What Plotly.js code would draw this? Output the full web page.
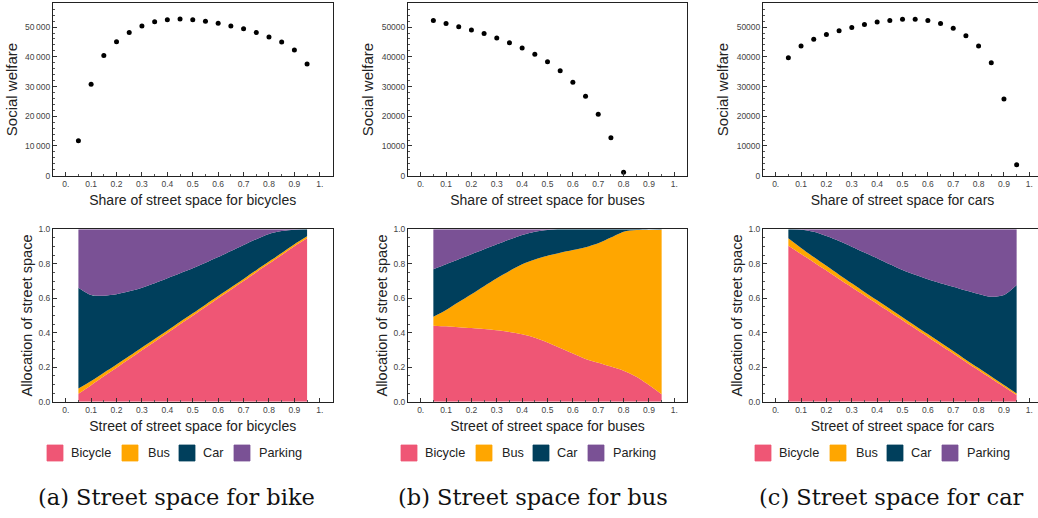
<!DOCTYPE html>
<html><head><meta charset="utf-8">
<script src="https://cdn.plot.ly/plotly-3.0.1.min.js"></script>
<style>html,body{margin:0;padding:0;overflow:hidden;background:#fff}#chart{width:1046px;height:518px}</style>
</head><body><div id="chart"></div>
<script>
// ---------- data ----------
const share = [0.05,0.10,0.15,0.20,0.25,0.30,0.35,0.40,0.45,0.50,0.55,0.60,0.65,0.70,0.75,0.80,0.85,0.90,0.95];
const shareBuses = [0.05,0.10,0.15,0.20,0.25,0.30,0.35,0.40,0.45,0.50,0.55,0.60,0.65,0.70,0.75,0.80];

const welfareBicycles = [11800,30800,40400,45100,48200,50400,51800,52500,52700,52500,52000,51300,50400,49400,48200,46700,45000,42300,37600];
const welfareBuses = [52200,51200,50100,49000,47800,46300,44700,43000,40900,38300,35300,31400,26700,20700,12800,1200];
const welfareCars = [39700,43600,45900,47500,48800,49900,50900,51700,52200,52600,52600,52200,51200,49600,47100,43600,38000,25800,3700];

// allocation when varying bicycle space
const bikeBicycle = [0.046,0.096,0.147,0.197,0.247,0.298,0.348,0.398,0.449,0.499,0.549,0.600,0.650,0.700,0.751,0.801,0.851,0.902,0.948];
const bikeBus     = [0.030,0.024,0.021,0.019,0.018,0.017,0.016,0.015,0.015,0.014,0.014,0.013,0.013,0.012,0.012,0.012,0.011,0.011,0.011];
const bikeCar     = [0.585,0.499,0.447,0.407,0.375,0.346,0.323,0.303,0.281,0.261,0.243,0.226,0.211,0.197,0.180,0.160,0.128,0.085,0.041];
const bikeParking = [0.339,0.381,0.385,0.377,0.360,0.339,0.313,0.284,0.255,0.226,0.194,0.161,0.126,0.091,0.057,0.027,0.010,0.002,0.000];

// allocation when varying bus space
const busBicycle = [0.441,0.437,0.432,0.427,0.421,0.414,0.404,0.391,0.371,0.344,0.312,0.280,0.248,0.226,0.204,0.180,0.145,0.097,0.043];
const busBus     = [0.052,0.095,0.146,0.196,0.249,0.302,0.354,0.406,0.454,0.503,0.552,0.600,0.648,0.693,0.748,0.806,0.851,0.899,0.955];
const busCar     = [0.275,0.265,0.248,0.232,0.214,0.197,0.183,0.170,0.161,0.149,0.136,0.120,0.104,0.081,0.048,0.014,0.004,0.002,0.002];
const busParking = [0.232,0.203,0.174,0.145,0.116,0.087,0.059,0.033,0.014,0.004,0.000,0.000,0.000,0.000,0.000,0.000,0.000,0.000,0.000];

// allocation when varying car space
const carBicycle = [0.905,0.857,0.809,0.761,0.712,0.664,0.616,0.568,0.520,0.472,0.424,0.376,0.328,0.280,0.231,0.183,0.135,0.087,0.039];
const carBus     = [0.043,0.035,0.030,0.027,0.025,0.023,0.021,0.020,0.019,0.018,0.017,0.016,0.015,0.014,0.013,0.012,0.011,0.010,0.009];
const carCar     = [0.052,0.106,0.147,0.173,0.195,0.212,0.228,0.244,0.258,0.274,0.295,0.318,0.344,0.373,0.401,0.430,0.463,0.522,0.629];
const carParking = [0.000,0.002,0.014,0.039,0.068,0.101,0.135,0.168,0.203,0.236,0.264,0.290,0.313,0.333,0.355,0.375,0.391,0.381,0.323];

const modes = ['Bicycle','Bus','Car','Parking'];
const modeColors = ['#EF5675','#FFA600','#003F5C','#7A5195'];
const xTickVals = [0,0.1,0.2,0.3,0.4,0.5,0.6,0.7,0.8,0.9,1];
const xTickText = ['0.','0.1','0.2','0.3','0.4','0.5','0.6','0.7','0.8','0.9','1.'];
const wTickVals = [0,10000,20000,30000,40000,50000];
const wTickTextSpaced = ['0','10\u2009000','20\u2009000','30\u2009000','40\u2009000','50\u2009000'];
const wTickTextPlain = ['0','10000','20000','30000','40000','50000'];
const topTitles = ['Share of street space for bicycles','Share of street space for buses','Share of street space for cars'];
const bottomTitles = ['Street of street space for bicycles','Street of street space for buses','Street of street space for cars'];
const captions = ['(a) Street space for bike','(b) Street space for bus','(c) Street space for car'];

// ---------- layout geometry ----------
const W = 1046, H = 518;
const px = v => v / W;
const py = v => 1 - v / H;
const cols = [[53, 332.5], [408, 687], [763, 1042]];
const topY = [py(175.7), py(3.3)];
const botY = [py(401.7), py(229.3)];

const traces = [];
const welfare = [[share, welfareBicycles], [shareBuses, welfareBuses], [share, welfareCars]];
welfare.forEach((d, i) => {
  traces.push({type:'scatter', mode:'markers', x:d[0], y:d[1], xaxis: i===0?'x':'x'+(i+1), yaxis: i===0?'y':'y'+(i+1),
    marker:{color:'#000', size:5}, showlegend:false, hoverinfo:'x+y'});
});
const alloc = [
  [bikeBicycle, bikeBus, bikeCar, bikeParking],
  [busBicycle, busBus, busCar, busParking],
  [carBicycle, carBus, carCar, carParking]
];
alloc.forEach((set, i) => {
  set.forEach((vals, k) => {
    traces.push({type:'scatter', mode:'lines', x:share, y:vals, stackgroup:'s'+i,
      xaxis:'x'+(i+4), yaxis:'y'+(i+4), name:modes[k],
      line:{width:0, shape:'spline', smoothing:0.8, color:modeColors[k]},
      fillcolor:modeColors[k], showlegend:false});
  });
});

const tickFont = {family:'Liberation Sans, Arial, sans-serif', size:8.5, color:'#444'};
const titleFont = {family:'Liberation Sans, Arial, sans-serif', size:14, color:'#222'};
function xAxis(dom, anchor, title) {
  return {domain:dom, anchor:anchor, range:[-0.05,1.05], tickmode:'array', tickvals:xTickVals, ticktext:xTickText,
    ticks:'inside', ticklen:4, tickwidth:1, tickcolor:'#333',
    minor:{dtick:0.05, tick0:0, ticks:'inside', ticklen:2, tickcolor:'#555', showgrid:false},
    showline:true, mirror:true, linecolor:'#222', linewidth:1, showgrid:false, zeroline:false,
    tickfont:tickFont, title:{text:title, font:titleFont, standoff:7}, fixedrange:true};
}
function yAxisTop(dom, anchor, ticktext) {
  return {domain:dom, anchor:anchor, range:[0,58000], tickmode:'array', tickvals:wTickVals, ticktext:ticktext,
    ticks:'inside', ticklen:4, tickwidth:1, tickcolor:'#333',
    minor:{dtick:2000, tick0:0, ticks:'inside', ticklen:2, tickcolor:'#555', showgrid:false},
    showline:true, mirror:true, linecolor:'#222', linewidth:1, showgrid:false, zeroline:false,
    tickfont:tickFont, title:{text:'Social welfare', font:{...titleFont, size:15}, standoff:3.5}, fixedrange:true};
}
function yAxisBot(dom, anchor) {
  return {domain:dom, anchor:anchor, range:[0,1], tickmode:'linear', tick0:0, dtick:0.2, tickformat:'.1f',
    ticks:'inside', ticklen:4, tickwidth:1, tickcolor:'#333',
    minor:{dtick:0.05, tick0:0, ticks:'inside', ticklen:2, tickcolor:'#555', showgrid:false},
    showline:true, mirror:true, linecolor:'#222', linewidth:1, showgrid:false, zeroline:false,
    tickfont:tickFont, title:{text:'Allocation of street space', font:{...titleFont, size:14.5}, standoff:2}, fixedrange:true};
}

const layout = {
  width:W, height:H, margin:{l:0,r:0,t:0,b:0}, paper_bgcolor:'#fff', plot_bgcolor:'#fff',
  showlegend:false, font:{family:'Liberation Sans, Arial, sans-serif'},
  xaxis: xAxis([px(cols[0][0]), px(cols[0][1])], 'y', topTitles[0]),
  yaxis: yAxisTop(topY, 'x', wTickTextSpaced),
  xaxis2: xAxis([px(cols[1][0]), px(cols[1][1])], 'y2', topTitles[1]),
  yaxis2: yAxisTop(topY, 'x2', wTickTextPlain),
  xaxis3: xAxis([px(cols[2][0]), px(cols[2][1])], 'y3', topTitles[2]),
  yaxis3: yAxisTop(topY, 'x3', wTickTextPlain),
  xaxis4: xAxis([px(cols[0][0]), px(cols[0][1])], 'y4', bottomTitles[0]),
  yaxis4: yAxisBot(botY, 'x4'),
  xaxis5: xAxis([px(cols[1][0]), px(cols[1][1])], 'y5', bottomTitles[1]),
  yaxis5: yAxisBot(botY, 'x5'),
  xaxis6: xAxis([px(cols[2][0]), px(cols[2][1])], 'y6', bottomTitles[2]),
  yaxis6: yAxisBot(botY, 'x6'),
  shapes: [], annotations: []
};

// legends (one per bottom panel) and captions
const swatchX = [47, 122, 179, 234];
const textX = [69, 146, 201, 257];
const colStep = 354;
for (let c = 0; c < 3; c++) {
  for (let k = 0; k < 4; k++) {
    const sx = swatchX[k] + c*colStep;
    layout.shapes.push({type:'rect', xref:'paper', yref:'paper', x0:px(sx), x1:px(sx+16), y0:py(461), y1:py(445),
      fillcolor:modeColors[k], line:{width:0.8, color:modeColors[k]}});
    layout.annotations.push({xref:'paper', yref:'paper', x:px(textX[k] + c*colStep), y:py(453), xanchor:'left', yanchor:'middle',
      text:modes[k], showarrow:false, font:{family:'Liberation Sans, Arial, sans-serif', size:12.7, color:'#222'}});
  }
  layout.annotations.push({xref:'paper', yref:'paper', x:px([176,533,891][c]), y:py(497), xanchor:'center', yanchor:'middle',
    text:captions[c], showarrow:false, font:{family:'DejaVu Serif, Liberation Serif, serif', size:22.5, color:'#111'}});
}

Plotly.newPlot('chart', traces, layout, {staticPlot:true, displayModeBar:false});
</script></body></html>
